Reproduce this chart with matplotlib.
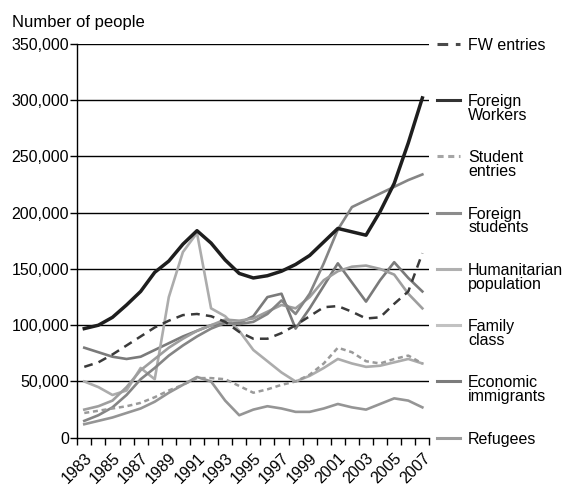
import numpy as np
import matplotlib
matplotlib.use("Agg")
import matplotlib.pyplot as plt
from matplotlib.lines import Line2D

plt.rcParams['font.family'] = ['Liberation Sans', 'DejaVu Sans']

# values in thousands of people, 1983..2007
years = list(range(1983, 2008))
fw_entries = [63, 67, 74, 82, 90, 98, 104, 109, 110, 108, 103, 94, 88, 88, 93, 100, 108, 116, 117, 112, 106, 107, 119, 130, 164]
foreign_workers = [97, 100, 107, 118, 130, 147, 157, 172, 184, 173, 158, 146, 142, 144, 148, 154, 162, 174, 186, 183, 180, 201, 226, 262, 302]
student_entries = [22, 24, 26, 28, 31, 36, 42, 47, 53, 53, 52, 46, 40, 43, 47, 50, 56, 66, 80, 76, 68, 66, 70, 73, 66]
foreign_students = [15, 20, 27, 38, 52, 62, 73, 82, 90, 97, 102, 101, 103, 110, 122, 110, 128, 155, 185, 205, 211, 217, 223, 229, 234]
humanitarian = [25, 28, 33, 45, 60, 70, 80, 88, 95, 100, 105, 104, 106, 112, 118, 115, 125, 140, 148, 152, 153, 150, 145, 128, 115]
family_class = [50, 45, 38, 42, 62, 52, 125, 165, 182, 115, 108, 95, 78, 68, 58, 50, 55, 62, 70, 66, 63, 64, 67, 70, 66]
economic = [80, 76, 72, 70, 72, 78, 84, 90, 95, 100, 102, 102, 108, 125, 128, 97, 115, 135, 155, 138, 121, 140, 156, 142, 130]
refugees = [12, 15, 18, 22, 26, 32, 40, 47, 54, 50, 33, 20, 25, 28, 26, 23, 23, 26, 30, 27, 25, 30, 35, 33, 27]

labels = ['FW entries', 'Foreign\nWorkers', 'Student\nentries', 'Foreign\nstudents',
          'Humanitarian\npopulation', 'Family\nclass', 'Economic\nimmigrants', 'Refugees']
series = [fw_entries, foreign_workers, student_entries, foreign_students,
          humanitarian, family_class, economic, refugees]
colors = ['#3a3a3a', '#1e1e1e', '#9a9a9a', '#858585', '#9e9e9e', '#acacac', '#7a7a7a', '#959595']
key_colors = ['#4a4a4a', '#333333', '#a5a5a5', '#8c8c8c', '#b0b0b0', '#c2c2c2', '#7c7c7c', '#9c9c9c']
styles = [(0, (3.5, 2.5)), '-', (0, (2, 1.5)), '-', '-', '-', '-', '-']
widths = [1.8, 2.5, 1.8, 1.9, 1.9, 1.9, 1.9, 1.9]
legend_y = [350000, 300000, 250000, 200000, 150000, 100000, 50000, 0]

fig = plt.figure(figsize=(5.68, 4.88), dpi=100)
ax = fig.add_axes([0.136, 0.103, 0.62, 0.807])

x = np.arange(len(years))
# draw back to front so the black line sits on top
order = [7, 6, 5, 4, 3, 2, 0, 1]
for i in order:
    vals = np.array(series[i]) * 1000
    ax.plot(x, vals, color=colors[i], lw=widths[i], linestyle=styles[i],
            solid_joinstyle='round', dash_capstyle='butt', zorder=3)

ax.set_xlim(-0.5, len(years) - 0.5)
ax.set_ylim(0, 350000)
ax.set_yticks(np.arange(0, 350001, 50000))
ax.set_yticklabels([f'{v:,}' for v in range(0, 350001, 50000)], fontsize=11.5)
for v in range(50000, 350001, 50000):
    ax.axhline(v, color='black', lw=1, zorder=2)

ax.set_xticks(np.arange(-0.5, len(years), 1.0), minor=True)
ax.set_xticks(x[::2])
ax.set_xticklabels([str(y) for y in years[::2]], rotation=45, ha='right',
                   rotation_mode='anchor', fontsize=11.5)
ax.tick_params(axis='x', which='major', length=0, pad=9)
ax.tick_params(axis='x', which='minor', length=5, width=1, color='black')
ax.tick_params(axis='y', length=5, width=1, pad=1)

for s in ['top', 'right']:
    ax.spines[s].set_visible(False)
ax.spines['left'].set_linewidth(1)
ax.spines['bottom'].set_linewidth(1)

# legend entries sit on the gridlines, right of the plot
trans = ax.get_yaxis_transform()
for lab, c, ls, yv in zip(labels, key_colors, styles, legend_y):
    ax.add_line(Line2D([1.022, 1.087], [yv, yv], transform=trans, color=c,
                       lw=2.2, linestyle=ls, clip_on=False))
    ax.annotate(lab, xy=(1.11, yv), xycoords=trans, xytext=(0, 6),
                textcoords='offset pixels', va='top', ha='left',
                fontsize=11.5, linespacing=0.9, annotation_clip=False)

fig.text(0.021, 1 - 27 / 488, 'Number of people', fontsize=12, va='baseline')

fig.savefig('out.png', dpi=100)
